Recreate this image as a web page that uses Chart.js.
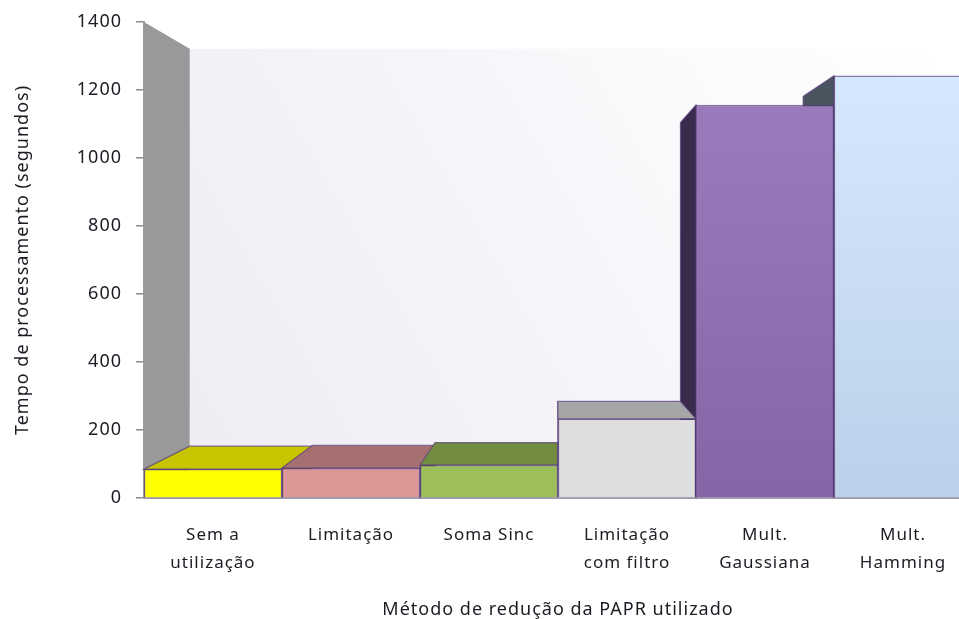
<!DOCTYPE html>
<html>
<head>
<meta charset="utf-8">
<title>Tempo de processamento</title>
<script src="https://cdn.jsdelivr.net/npm/chart.js@4"></script>
<style>
  html, body { margin: 0; padding: 0; background: #fff; overflow: hidden; }
  #wrap { width: 959px; height: 619px; overflow: hidden; }
  #chart { display: block; }
</style>
</head>
<body>
<div id="wrap"><canvas id="chart" width="990" height="619"></canvas></div>
<script>
const categories = [
  ['Sem a', 'utilização'],
  'Limitação',
  'Soma Sinc',
  ['Limitação', 'com filtro'],
  ['Mult.', 'Gaussiana'],
  ['Mult.', 'Hamming']
];
const tempos = [85, 88, 97, 233, 1156, 1242];

const frontTop = ['#ffff00', '#dc9896', '#9cbf5a', '#dedede', '#9e7fbf', '#d8ebff'];
const frontBottom = ['#ffff00', '#dc9896', '#9cbf5a', '#dedede', '#8565a5', '#bcd0ea'];
const topColors = ['#c8c400', '#a67070', '#728c40', '#a6a6a6', '#9e7fbf', '#d8ebff'];
const sideColors = ['#8c8a00', '#7c5050', '#55692f', '#7c7c7c', '#3a2a4c', '#4a545e'];

const edgeColor = 'rgba(85, 60, 125, 0.7)';
const fontName = '"Noto Sans", sans-serif';

// Vanishing point as a share of the plot area, and how far back the depth goes
const vpShareX = 0.4976;
const vpShareY = 0.505;
const depth = 0.111;

function toBack(x, y, vp) {
  return [x + (vp[0] - x) * depth, y + (vp[1] - y) * depth];
}

function fillPoly(ctx, pts, fill, stroke) {
  ctx.beginPath();
  pts.forEach((p, i) => i ? ctx.lineTo(p[0], p[1]) : ctx.moveTo(p[0], p[1]));
  ctx.closePath();
  ctx.fillStyle = fill;
  ctx.fill();
  if (stroke) {
    ctx.strokeStyle = stroke;
    ctx.lineWidth = 1.2;
    ctx.stroke();
  }
}

// Reference text is wider than any installed font, so space the letters out
const spacingPlugin = {
  id: 'spacing',
  beforeUpdate(chart) { chart.ctx.letterSpacing = '1px'; },
  beforeDraw(chart) { chart.ctx.letterSpacing = '1px'; }
};

// Walls and the top/side faces of each bar, the fronts are the real bars
const depthPlugin = {
  id: 'depth',
  beforeDatasetsDraw(chart) {
    const { ctx, chartArea: a, scales } = chart;
    const vp = [a.left + a.width * vpShareX, a.top + a.height * vpShareY];
    const yTop = scales.y.getPixelForValue(1400);
    const yBase = scales.y.getPixelForValue(0);
    const backTL = toBack(a.left, yTop, vp);
    const backBL = toBack(a.left, yBase, vp);
    const backTR = toBack(a.right, yTop, vp);

    ctx.save();
    const wall = ctx.createLinearGradient(backBL[0], backBL[1], backTR[0], backTR[1]);
    wall.addColorStop(0, '#efedf3');
    wall.addColorStop(0.5, '#f7f5f9');
    wall.addColorStop(1, '#ffffff');
    fillPoly(ctx, [backTL, [a.right + 30, backTL[1]], [a.right + 30, backBL[1]], backBL], wall);
    fillPoly(ctx, [[a.left, yTop], backTL, backBL, [a.left, yBase]], '#9a989b');

    const bars = chart.getDatasetMeta(0).data;
    // outer bars first, the ones nearest the vanishing point go on top
    const order = [5, 4, 0, 1, 2, 3];
    order.forEach(i => {
      const b = bars[i];
      const l = b.x - b.width / 2;
      const r = b.x + b.width / 2;
      const top = b.y;
      const base = b.base;
      if (r < vp[0] - 1) {
        fillPoly(ctx, [[r, top], toBack(r, top, vp), toBack(r, base, vp), [r, base]], sideColors[i], edgeColor);
      }
      if (l > vp[0] + 1) {
        fillPoly(ctx, [[l, top], toBack(l, top, vp), toBack(l, base, vp), [l, base]], sideColors[i], edgeColor);
      }
      if (top > vp[1]) {
        fillPoly(ctx, [[l, top], toBack(l, top, vp), toBack(r, top, vp), [r, top]], topColors[i], edgeColor);
      }
    });
    ctx.restore();
  }
};

new Chart(document.getElementById('chart'), {
  type: 'bar',
  data: {
    labels: categories,
    datasets: [{
      data: tempos,
      barPercentage: 1,
      categoryPercentage: 1,
      borderWidth: 1.5,
      borderColor: edgeColor,
      backgroundColor(c) {
        const i = c.dataIndex;
        const area = c.chart.chartArea;
        if (!area || i === undefined) return frontTop[0];
        const el = c.chart.getDatasetMeta(0).data[i];
        const y0 = el && el.y ? el.y : area.top;
        const g = c.chart.ctx.createLinearGradient(0, y0, 0, area.bottom);
        g.addColorStop(0, frontTop[i]);
        g.addColorStop(1, frontBottom[i]);
        return g;
      }
    }]
  },
  options: {
    responsive: false,
    animation: false,
    layout: { padding: { top: 22, right: 18, left: 0, bottom: 0 } },
    plugins: {
      legend: { display: false },
      tooltip: { enabled: false }
    },
    scales: {
      x: {
        afterFit(scale) { scale.height = 121; },
        grid: { display: false },
        border: { display: true, color: '#a09cae', width: 2 },
        ticks: {
          color: '#1c1c24',
          maxRotation: 0,
          autoSkip: false,
          padding: 15,
          font: { family: fontName, size: 17, lineHeight: '28px' }
        },
        title: {
          display: true,
          text: 'Método de redução da PAPR utilizado',
          color: '#1c1c24',
          font: { family: fontName, size: 18 },
          padding: { top: 10, bottom: -2 }
        }
      },
      y: {
        min: 0,
        max: 1400,
        afterFit(scale) {
          scale.width = 144;
          scale.paddingTop = 0;
          scale.paddingBottom = 0;
        },
        grid: { drawOnChartArea: false, drawTicks: true, tickLength: 8, color: '#8a8a8a', lineWidth: 1.5 },
        border: { display: true, color: '#9a9a9a', width: 2 },
        ticks: {
          stepSize: 200,
          color: '#1c1c24',
          padding: 14,
          font: { family: fontName, size: 18 },
          callback: value => String(value)
        },
        title: {
          display: true,
          text: 'Tempo de processamento (segundos)',
          color: '#1c1c24',
          font: { family: fontName, size: 18 },
          padding: { top: 12, bottom: 0 }
        }
      }
    }
  },
  plugins: [spacingPlugin, depthPlugin]
});
</script>
</body>
</html>
